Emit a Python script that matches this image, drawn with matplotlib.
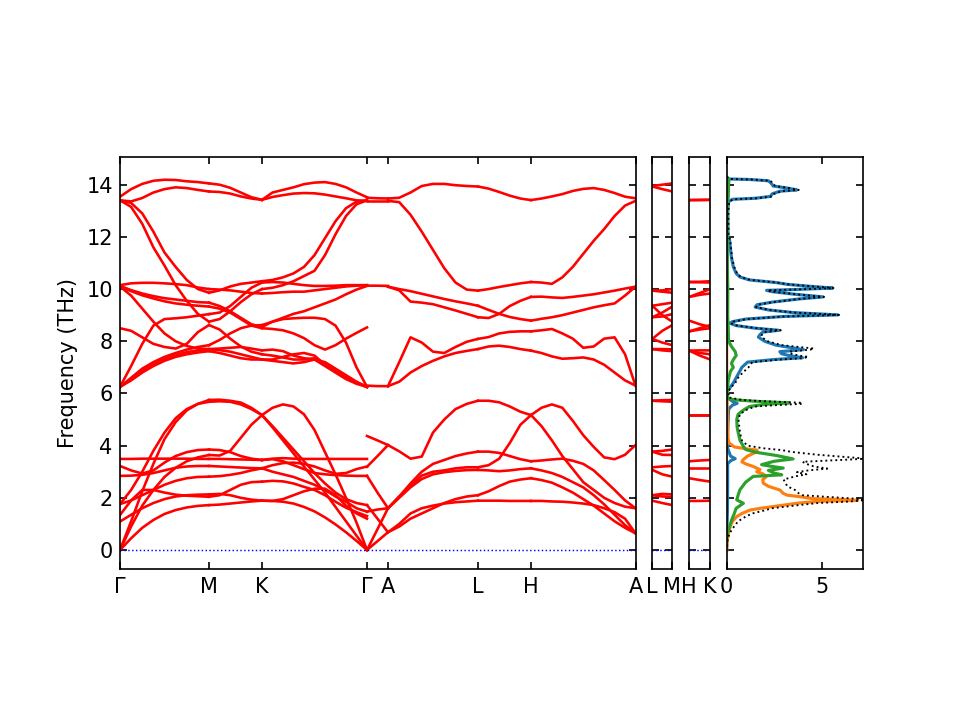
import numpy as np
import matplotlib
matplotlib.use("Agg")
import matplotlib.pyplot as plt

# ---------------- data ----------------
main_ticks = [0, 89, 142, 247, 268, 358, 411, 515.5]
main_labels = ["Γ", "M", "K", "Γ", "A", "L", "H", "A"]

bands_G_M = [
    [13.54, 13.83, 14.03, 14.15, 14.19, 14.18, 14.13, 14.10, 14.05],
    [13.40, 13.36, 13.49, 13.70, 13.83, 13.90, 13.87, 13.80, 13.74],
    [13.40, 13.15, 12.50, 11.60, 10.90, 10.15, 9.55, 9.05, 8.75],
    [13.40, 13.30, 12.90, 12.20, 11.40, 10.85, 10.35, 10.00, 9.86],
    [10.15, 10.22, 10.24, 10.24, 10.22, 10.19, 10.15, 10.06, 10.00],
    [10.12, 9.96, 9.83, 9.73, 9.65, 9.60, 9.55, 9.50, 9.48],
    [10.10, 9.92, 9.76, 9.64, 9.53, 9.45, 9.40, 9.36, 9.33],
    [10.10, 9.75, 9.25, 8.75, 8.30, 8.00, 7.82, 7.72, 7.70],
    [8.50, 8.40, 8.15, 7.90, 7.78, 7.72, 7.90, 8.35, 8.62],
    [6.25, 7.05, 7.90, 8.60, 8.85, 8.88, 8.92, 8.98, 9.04],
    [6.25, 6.60, 6.95, 7.20, 7.40, 7.55, 7.68, 7.78, 7.85],
    [6.25, 6.55, 6.88, 7.12, 7.32, 7.47, 7.58, 7.65, 7.69],
    [6.25, 6.50, 6.80, 7.05, 7.25, 7.40, 7.50, 7.57, 7.62],
    [3.49, 3.49, 3.50, 3.50, 3.50, 3.50, 3.50, 3.49, 3.49],
    [3.22, 3.05, 2.93, 3.05, 3.35, 3.60, 3.75, 3.83, 3.85],
    [2.84, 2.85, 2.88, 2.95, 3.05, 3.15, 3.20, 3.22, 3.22],
    [0.00, 1.10, 2.25, 3.30, 4.25, 4.90, 5.35, 5.60, 5.75],
    [1.76, 2.30, 3.00, 3.80, 4.50, 5.05, 5.40, 5.60, 5.68],
    [0.00, 0.90, 1.70, 2.30, 2.80, 3.15, 3.40, 3.55, 3.64],
    [1.34, 1.90, 2.30, 2.30, 2.20, 2.12, 2.08, 2.06, 2.04],
    [1.09, 1.35, 1.60, 1.80, 1.95, 2.05, 2.10, 2.12, 2.13],
    [0.00, 0.45, 0.85, 1.15, 1.38, 1.53, 1.63, 1.69, 1.72],
    [1.76, 1.90, 2.10, 2.30, 2.50, 2.65, 2.75, 2.80, 2.81],
]

bands_M_K = [
    [14.05, 14.00, 13.88, 13.70, 13.52, 13.42],
    [13.74, 13.72, 13.66, 13.55, 13.47, 13.42],
    [8.75, 8.85, 9.15, 9.50, 9.80, 10.00],
    [9.86, 9.95, 10.10, 10.20, 10.25, 10.30],
    [10.00, 9.98, 9.95, 9.90, 9.85, 9.83],
    [9.48, 9.35, 9.15, 8.90, 8.65, 8.55],
    [9.33, 9.25, 9.10, 8.85, 8.60, 8.50],
    [7.70, 7.72, 7.75, 7.78, 7.72, 7.65],
    [8.62, 8.45, 8.10, 7.80, 7.60, 7.50],
    [9.04, 9.10, 9.35, 9.70, 10.05, 10.25],
    [7.85, 8.05, 8.30, 8.50, 8.60, 8.62],
    [7.69, 7.66, 7.60, 7.50, 7.40, 7.30],
    [7.62, 7.55, 7.45, 7.35, 7.30, 7.30],
    [3.49, 3.49, 3.48, 3.47, 3.46, 3.45],
    [3.85, 3.83, 3.75, 3.60, 3.50, 3.45],
    [3.22, 3.20, 3.18, 3.16, 3.14, 3.13],
    [5.75, 5.76, 5.72, 5.65, 5.45, 5.17],
    [5.68, 5.70, 5.68, 5.58, 5.40, 5.17],
    [3.64, 3.62, 3.80, 4.30, 4.80, 5.17],
    [2.04, 2.10, 2.30, 2.50, 2.60, 2.62],
    [2.13, 2.15, 2.10, 2.00, 1.93, 1.89],
    [1.72, 1.74, 1.78, 1.82, 1.86, 1.89],
    [2.81, 2.83, 2.88, 2.95, 3.05, 3.13],
]

bands_K_G = [
    [13.42, 13.70, 13.80, 13.90, 14.02, 14.08, 14.10, 14.03, 13.90, 13.70, 13.52],
    [13.42, 13.53, 13.60, 13.66, 13.68, 13.67, 13.62, 13.55, 13.48, 13.40, 13.38],
    [10.00, 10.05, 10.15, 10.30, 10.50, 10.70, 11.30, 12.10, 12.80, 13.25, 13.40],
    [10.30, 10.35, 10.45, 10.60, 10.85, 11.30, 11.95, 12.60, 13.10, 13.35, 13.40],
    [9.83, 9.85, 9.88, 9.90, 9.90, 9.95, 10.00, 10.05, 10.10, 10.13, 10.15],
    [8.55, 8.75, 8.90, 9.05, 9.15, 9.30, 9.45, 9.60, 9.80, 9.98, 10.12],
    [8.50, 8.47, 8.42, 8.30, 8.12, 7.85, 7.68, 7.85, 8.10, 8.32, 8.53],
    [7.65, 7.68, 7.62, 7.45, 7.35, 7.30, 7.20, 6.95, 6.70, 6.45, 6.25],
    [7.50, 7.45, 7.38, 7.30, 7.30, 7.35, 7.15, 6.90, 6.65, 6.42, 6.25],
    [10.25, 10.27, 10.25, 10.20, 10.15, 10.12, 10.12, 10.13, 10.15, 10.15, 10.15],
    [8.62, 8.75, 8.85, 8.88, 8.90, 8.90, 8.85, 8.60, 7.95, 7.00, 6.25],
    [7.30, 7.30, 7.40, 7.50, 7.55, 7.45, 7.10, 6.85, 6.60, 6.40, 6.25],
    [7.30, 7.25, 7.20, 7.15, 7.20, 7.30, 7.05, 6.80, 6.55, 6.37, 6.25],
    [3.45, 3.50, 3.52, 3.50, 3.49, 3.49, 3.49, 3.49, 3.49, 3.49, 3.49],
    [3.45, 3.48, 3.40, 3.25, 3.10, 2.95, 2.90, 2.87, 2.85, 2.84, 2.84],
    [3.13, 3.25, 3.33, 3.35, 3.30, 3.20, 3.05, 2.92, 2.95, 3.10, 3.20],
    [5.17, 4.70, 4.20, 3.70, 3.20, 2.70, 2.20, 1.65, 1.10, 0.55, 0.00],
    [5.17, 4.75, 4.30, 3.85, 3.40, 2.95, 2.55, 2.20, 1.95, 1.80, 1.72],
    [5.17, 5.45, 5.58, 5.50, 5.20, 4.60, 3.75, 2.90, 2.00, 1.05, 0.00],
    [2.62, 2.65, 2.63, 2.55, 2.42, 2.30, 2.10, 1.85, 1.62, 1.45, 1.30],
    [1.89, 1.88, 1.95, 2.10, 2.25, 2.35, 2.35, 2.10, 1.70, 1.40, 1.20],
    [1.89, 1.88, 1.85, 1.78, 1.65, 1.48, 1.25, 0.98, 0.68, 0.35, 0.00],
    [3.13, 3.00, 2.90, 2.80, 2.65, 2.50, 2.30, 2.05, 1.85, 1.60, 1.47],
]

bands_G_A = [
    [13.50, 13.48, 13.47],
    [13.38, 13.38, 13.38],
    [10.13, 10.13, 10.12],
    [6.30, 6.28, 6.28],
    [4.37, 4.20, 4.02],
    [3.19, 3.60, 4.02],
    [2.84, 2.20, 1.60],
    [1.47, 1.55, 1.60],
    [0.00, 0.80, 1.60],
    [1.72, 1.20, 0.68],
    [0.00, 0.34, 0.68],
]

bands_A_L = [
    [13.47, 13.50, 13.70, 13.95, 14.03, 14.03, 13.98, 13.95, 13.93],
    [13.38, 13.33, 12.85, 12.20, 11.50, 10.80, 10.25, 9.98, 9.94],
    [10.09, 9.95, 9.52, 9.48, 9.42, 9.30, 9.18, 9.05, 8.92],
    [10.09, 10.00, 9.92, 9.82, 9.72, 9.62, 9.53, 9.45, 9.36],
    [6.28, 7.20, 8.15, 7.95, 7.60, 7.55, 7.78, 7.98, 8.09],
    [6.28, 6.45, 6.80, 7.05, 7.25, 7.42, 7.55, 7.63, 7.70],
    [4.02, 3.78, 3.50, 3.58, 4.50, 5.00, 5.40, 5.60, 5.72],
    [1.60, 2.05, 2.55, 3.00, 3.30, 3.45, 3.60, 3.70, 3.77],
    [1.60, 2.05, 2.45, 2.85, 3.00, 3.05, 3.13, 3.17, 3.17],
    [1.60, 2.00, 2.40, 2.72, 2.90, 2.98, 3.03, 3.06, 3.07],
    [0.68, 0.90, 1.20, 1.40, 1.60, 1.80, 1.95, 2.05, 2.10],
    [0.68, 1.00, 1.40, 1.60, 1.70, 1.78, 1.83, 1.86, 1.89],
]

bands_L_H = [
    [13.93, 13.85, 13.72, 13.58, 13.47, 13.41],
    [9.94, 10.00, 10.08, 10.15, 10.22, 10.27],
    [8.92, 8.89, 9.05, 9.35, 9.55, 9.70],
    [9.36, 9.20, 9.05, 8.93, 8.85, 8.79],
    [8.09, 8.16, 8.30, 8.36, 8.38, 8.38],
    [7.70, 7.80, 7.83, 7.78, 7.70, 7.64],
    [5.72, 5.72, 5.66, 5.50, 5.30, 5.17],
    [3.17, 3.25, 3.50, 4.10, 4.80, 5.17],
    [3.77, 3.77, 3.72, 3.60, 3.48, 3.40],
    [3.07, 3.05, 3.02, 3.05, 3.10, 3.13],
    [2.10, 2.25, 2.45, 2.62, 2.70, 2.75],
    [1.89, 1.89, 1.89, 1.88, 1.88, 1.88],
]

bands_H_A = [
    [13.41, 13.47, 13.55, 13.64, 13.76, 13.84, 13.87, 13.80, 13.68, 13.54, 13.48],
    [10.27, 10.25, 10.20, 10.45, 10.85, 11.35, 11.85, 12.30, 12.80, 13.20, 13.38],
    [9.70, 9.71, 9.68, 9.66, 9.70, 9.75, 9.80, 9.87, 9.94, 10.02, 10.09],
    [8.79, 8.86, 8.92, 9.00, 9.10, 9.20, 9.30, 9.38, 9.45, 9.75, 10.09],
    [8.38, 8.42, 8.47, 8.30, 8.10, 7.75, 7.80, 8.10, 8.15, 7.50, 6.30],
    [7.64, 7.55, 7.42, 7.33, 7.35, 7.38, 7.30, 7.10, 6.80, 6.50, 6.30],
    [5.17, 4.75, 4.20, 3.60, 3.10, 2.60, 2.30, 2.00, 1.80, 1.66, 1.60],
    [5.17, 5.45, 5.58, 5.45, 4.95, 4.40, 3.95, 3.55, 3.48, 3.65, 4.02],
    [3.40, 3.43, 3.47, 3.50, 3.42, 3.30, 3.05, 2.68, 2.30, 1.90, 1.60],
    [3.13, 3.05, 2.95, 2.80, 2.60, 2.40, 2.10, 1.75, 1.35, 0.95, 0.64],
    [2.75, 2.68, 2.58, 2.40, 2.20, 1.95, 1.70, 1.40, 1.10, 0.85, 0.64],
    [1.88, 1.88, 1.86, 1.85, 1.82, 1.78, 1.72, 1.60, 1.45, 1.20, 0.64],
]

bands_L_M = [
    [13.95, 14.00, 14.05], [13.93, 13.83, 13.74],
    [9.94, 9.95, 10.00], [9.94, 9.90, 9.86],
    [9.36, 9.42, 9.48], [8.92, 9.10, 9.33],
    [8.92, 8.95, 9.04], [9.36, 9.00, 8.75],
    [8.09, 8.40, 8.62], [8.09, 7.95, 7.85],
    [7.70, 7.70, 7.69], [7.70, 7.65, 7.62],
    [5.72, 5.74, 5.75], [5.72, 5.70, 5.68],
    [3.77, 3.80, 3.85], [3.77, 3.65, 3.64],
    [3.17, 3.20, 3.22], [3.07, 2.90, 2.81],
    [2.10, 2.15, 2.13], [2.10, 2.05, 2.04],
    [1.89, 1.80, 1.72],
]
lm_labels = ["L", "M"]

bands_H_K = [
    [13.41, 13.41, 13.42], [13.41, 13.42, 13.42],
    [10.27, 10.28, 10.30], [10.27, 10.26, 10.25],
    [9.70, 9.85, 10.00], [9.70, 9.78, 9.83],
    [8.79, 8.65, 8.55], [8.38, 8.45, 8.50],
    [8.38, 8.50, 8.62], [7.64, 7.65, 7.65],
    [7.64, 7.55, 7.50], [7.64, 7.45, 7.30],
    [5.17, 5.17, 5.17], [5.17, 5.17, 5.17],
    [3.40, 3.43, 3.45], [3.13, 3.13, 3.13],
    [2.75, 2.68, 2.62], [1.88, 1.88, 1.89],
]
hk_labels = ["H", "K"]

# partial / total DOS (frequency, states)
dos0_freq = [14.30, 14.22, 14.20, 14.15, 14.05, 13.95, 13.87, 13.80, 13.75, 13.65, 13.55, 13.48, 13.44,
             13.35, 13.00, 12.00, 11.90, 11.20, 10.85, 10.60, 10.46, 10.35, 10.25, 10.18, 10.10, 10.04,
             9.98, 9.95, 9.90, 9.80, 9.70, 9.62, 9.50, 9.40, 9.31, 9.20, 9.10, 9.01, 8.95, 8.85, 8.75,
             8.69, 8.60, 8.50, 8.42, 8.35, 8.25, 8.16, 8.00, 7.85, 7.68, 7.60, 7.52, 7.45, 7.37, 7.30,
             7.20, 7.00, 6.80, 6.60, 6.40, 6.25, 6.10, 5.85, 5.70, 5.62, 5.55, 5.40, 4.50, 3.90, 3.60,
             3.50, 3.42, 3.30, 2.50, 1.50, 1.00, 0.00]
dos0_val = [0.00, 0.10, 1.20, 2.20, 2.35, 2.45, 3.20, 3.70, 2.80, 2.40, 2.30, 1.50, 0.30,
            0.10, 0.06, 0.07, 0.15, 0.25, 0.35, 0.50, 0.70, 1.20, 2.60, 3.20, 4.50, 5.60,
            3.50, 2.10, 2.40, 3.60, 5.08, 3.80, 2.40, 1.60, 1.50, 2.20, 3.50, 5.87, 3.00, 1.00, 0.30,
            0.17, 0.50, 1.50, 2.75, 1.90, 1.75, 1.67, 2.00, 2.60, 4.05, 2.80, 2.90, 3.30, 4.00, 2.50,
            1.10, 0.80, 0.65, 0.50, 0.35, 0.20, 0.05, 0.03, 0.30, 0.55, 0.30, 0.10, 0.05, 0.05, 0.20,
            0.45, 0.20, 0.05, 0.05, 0.04, 0.02, 0.00]

dos1_freq = [14.20, 10.00, 6.00, 5.80, 5.00, 4.30, 4.10, 3.95, 3.88, 3.83, 3.76, 3.60, 3.45, 3.38,
             3.30, 3.20, 3.08, 3.00, 2.92, 2.82, 2.70, 2.56, 2.44, 2.30, 2.17, 2.10, 2.04, 1.97,
             1.93, 1.90, 1.87, 1.80, 1.72, 1.60, 1.53, 1.40, 1.28, 1.10, 0.89, 0.60, 0.30, 0.00]
dos1_val = [0.00, 0.00, 0.00, 0.02, 0.04, 0.06, 0.12, 0.40, 1.00, 1.60, 1.58, 1.10, 0.85, 0.80,
            1.00, 1.40, 1.75, 1.58, 1.90, 2.10, 1.90, 1.93, 2.20, 2.80, 2.98, 3.20, 3.90, 4.50,
            6.20, 6.90, 5.00, 3.80, 3.00, 1.80, 1.23, 0.80, 0.53, 0.30, 0.18, 0.08, 0.02, 0.00]

dos2_freq = [14.25, 14.20, 14.00, 13.50, 13.40, 12.00, 10.50, 10.00, 9.00, 8.50, 8.00, 7.80, 7.60,
             7.45, 7.30, 7.15, 7.00, 6.85, 6.50, 6.00, 5.80, 5.75, 5.70, 5.64, 5.58, 5.50, 5.36,
             5.20, 5.00, 4.70, 4.49, 4.20, 3.97, 3.85, 3.75, 3.62, 3.49, 3.40, 3.27, 3.20, 3.14,
             3.05, 2.95, 2.88, 2.82, 2.60, 2.31, 2.10, 1.92, 1.79, 1.60, 1.40, 1.15, 0.90, 0.64,
             0.40]
dos2_val = [0.00, 0.12, 0.10, 0.08, 0.03, 0.03, 0.04, 0.06, 0.05, 0.08, 0.10, 0.25, 0.45,
            0.50, 0.35, 0.25, 0.35, 0.20, 0.08, 0.03, 0.05, 0.50, 1.50, 3.30, 2.00, 1.20, 0.88,
            0.60, 0.53, 0.55, 0.61, 0.70, 0.88, 1.00, 1.50, 2.63, 3.50, 2.50, 1.84, 2.40, 2.98,
            2.20, 2.50, 2.90, 1.40, 1.00, 0.70, 0.60, 0.53, 0.88, 0.50, 0.40, 0.26, 0.15, 0.03,
            0.00]

dost_freq = [14.30, 14.22, 14.20, 14.15, 14.05, 13.95, 13.87, 13.80, 13.75, 13.65, 13.55, 13.48, 13.44,
             13.35, 13.00, 12.00, 11.90, 11.20, 10.85, 10.60, 10.46, 10.35, 10.25, 10.18, 10.10, 10.04,
             9.98, 9.95, 9.90, 9.80, 9.70, 9.62, 9.50, 9.40, 9.31, 9.20, 9.10, 9.01, 8.95, 8.85, 8.75,
             8.69, 8.60, 8.50, 8.42, 8.35, 8.25, 8.16, 8.00, 7.85, 7.72, 7.68, 7.60, 7.52, 7.45, 7.40,
             7.35, 7.30, 7.20, 7.00, 6.80, 6.60, 6.40, 6.25, 6.10, 5.85, 5.75, 5.70, 5.64, 5.60, 5.55,
             5.50, 5.36, 5.20, 5.00, 4.50, 4.20, 4.00, 3.90, 3.83, 3.76, 3.65, 3.55, 3.50, 3.45, 3.38,
             3.30, 3.20, 3.12, 3.05, 2.98, 2.90, 2.82, 2.70, 2.56, 2.44, 2.30, 2.17, 2.10, 2.04, 1.98,
             1.92, 1.86, 1.80, 1.72, 1.60, 1.50, 1.40, 1.28, 1.10, 0.89, 0.64, 0.40, 0.00]
dost_val = [0.00, 0.15, 1.30, 2.30, 2.45, 2.55, 3.30, 3.80, 2.90, 2.50, 2.40, 1.60, 0.35,
            0.13, 0.09, 0.10, 0.18, 0.28, 0.40, 0.55, 0.75, 1.25, 2.65, 3.25, 4.55, 5.65,
            3.55, 2.15, 2.45, 3.65, 5.13, 3.85, 2.45, 1.65, 1.55, 2.25, 3.55, 5.92, 3.05, 1.05, 0.35,
            0.22, 0.55, 1.60, 2.85, 2.00, 1.85, 1.85, 2.15, 2.90, 4.60, 4.40, 3.30, 3.40, 3.80, 4.30,
            4.00, 2.85, 1.35, 1.15, 0.85, 0.60, 0.45, 0.25, 0.10, 0.10, 0.80, 2.00, 4.00, 3.90, 2.60,
            1.50, 1.00, 0.70, 0.62, 0.70, 0.80, 1.10, 1.90, 2.90, 3.40, 4.80, 6.50, 7.40, 6.00, 4.00,
            4.20, 4.60, 5.30, 4.30, 3.70, 4.20, 3.60, 3.00, 3.10, 3.20, 3.60, 3.80, 4.00, 5.20, 6.50,
            7.40, 6.50, 4.80, 3.80, 2.40, 1.90, 1.35, 1.00, 0.60, 0.38, 0.15, 0.05, 0.00]

dos_xticks = [0, 5]

# ---------------- figure ----------------
W, H = 960.0, 720.0
fig = plt.figure(figsize=(6.4, 4.8), dpi=150)
ylim = (-0.74, 15.05)
bottom = 1 - 569.3 / H
height = 412.0 / H

ax = fig.add_axes([120 / W, bottom, 515.5 / W, height])
ax1 = fig.add_axes([652.3 / W, bottom, 20.0 / W, height])
ax2 = fig.add_axes([689.3 / W, bottom, 21.0 / W, height])
ax3 = fig.add_axes([726.7 / W, bottom, 136.6 / W, height])

band_kw = dict(color="red", lw=1.25)

segments = [
    (main_ticks[0], main_ticks[1], bands_G_M),
    (main_ticks[1], main_ticks[2], bands_M_K),
    (main_ticks[2], main_ticks[3], bands_K_G),
    (main_ticks[3], main_ticks[4], bands_G_A),
    (main_ticks[4], main_ticks[5], bands_A_L),
    (main_ticks[5], main_ticks[6], bands_L_H),
    (main_ticks[6], main_ticks[7], bands_H_A),
]
for x0, x1, bands in segments:
    for b in bands:
        ax.plot(np.linspace(x0, x1, len(b)), b, **band_kw)
ax.axhline(0, color="blue", ls=":", lw=0.7)
ax.set_xlim(main_ticks[0], main_ticks[-1])
ax.set_ylim(*ylim)
ax.set_xticks(main_ticks)
ax.set_xticklabels(main_labels)
ax.set_yticks(np.arange(0, 15, 2))
ax.set_ylabel("Frequency (THz)")

for a, bands, width, labels in [(ax1, bands_L_M, 20.0, lm_labels), (ax2, bands_H_K, 21.0, hk_labels)]:
    for b in bands:
        a.plot(np.linspace(0, width, len(b)), b, **band_kw)
    a.axhline(0, color="blue", ls=":", lw=0.7)
    a.set_xlim(0, width)
    a.set_ylim(*ylim)
    a.set_xticks([0, width])
    a.set_xticklabels(labels)
    a.set_yticks(np.arange(0, 15, 2))
    a.set_yticklabels([])

ax3.plot(dos0_val, dos0_freq, color="C0", lw=1.5)
ax3.plot(dos1_val, dos1_freq, color="C1", lw=1.5)
ax3.plot(dos2_val, dos2_freq, color="C2", lw=1.5)
ax3.plot(dost_val, dost_freq, color="black", ls=":", lw=0.9)
ax3.set_xlim(0, 7.2)
ax3.set_ylim(*ylim)
ax3.set_xticks(dos_xticks)
ax3.set_yticks(np.arange(0, 15, 2))
ax3.set_yticklabels([])

for a in (ax, ax1, ax2, ax3):
    a.tick_params(direction="in", top=True, right=True, labelsize=10)

fig.savefig("out.png", dpi=150)
